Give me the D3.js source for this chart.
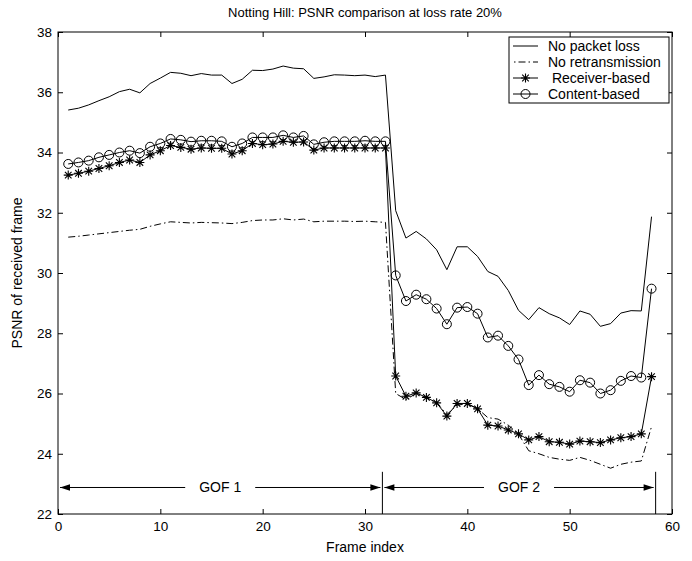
<!DOCTYPE html>
<html>
<head>
<meta charset="utf-8">
<script src="https://cdn.jsdelivr.net/npm/d3@7"></script>
<style>
  html, body { margin: 0; padding: 0; background: #fff; }
  svg { display: block; }
  text { font-family: "Liberation Sans", Arial, sans-serif; fill: #000; }
</style>
</head>
<body>
<svg id="chart" width="692" height="561"></svg>
<script>
const frames = [1,2,3,4,5,6,7,8,9,10,11,12,13,14,15,16,17,18,19,20,21,22,23,24,25,26,27,28,29,30,31,32,
  33,34,35,36,37,38,39,40,41,42,43,44,45,46,47,48,49,50,51,52,53,54,55,56,57,58];

const noLoss = [35.41,35.47,35.58,35.72,35.85,36.02,36.10,35.98,36.29,36.47,36.66,36.63,36.55,36.62,36.57,36.57,
  36.29,36.43,36.73,36.72,36.77,36.87,36.80,36.78,36.46,36.51,36.58,36.57,36.55,36.57,36.52,36.57,
  32.07,31.16,31.38,31.13,30.77,30.11,30.87,30.87,30.55,30.05,29.89,29.42,28.76,28.45,28.85,28.65,
  28.51,28.29,28.74,28.63,28.23,28.32,28.67,28.75,28.74,31.87];

const noRetrans = [31.19,31.22,31.26,31.30,31.34,31.38,31.42,31.45,31.55,31.63,31.70,31.68,31.66,31.68,31.67,31.66,
  31.64,31.68,31.74,31.76,31.76,31.80,31.76,31.79,31.70,31.72,31.72,31.72,31.71,31.72,31.70,31.68,
  26.00,25.80,26.00,25.85,25.70,25.30,25.62,25.65,25.50,25.20,25.15,24.95,24.65,24.10,24.00,23.88,
  23.82,23.78,23.88,23.78,23.65,23.52,23.65,23.72,23.76,24.90];

const receiverBased = [33.25,33.31,33.38,33.47,33.56,33.67,33.75,33.67,33.92,34.06,34.23,34.17,34.11,34.15,34.14,34.14,
  33.95,34.06,34.30,34.26,34.28,34.37,34.34,34.35,34.08,34.15,34.15,34.15,34.15,34.15,34.15,34.15,
  26.58,25.91,26.02,25.87,25.69,25.25,25.67,25.67,25.49,24.95,24.92,24.79,24.66,24.46,24.57,24.40,
  24.38,24.32,24.42,24.40,24.37,24.46,24.53,24.57,24.66,26.56];

const contentBased = [33.62,33.67,33.73,33.84,33.92,34.00,34.06,33.98,34.19,34.30,34.45,34.42,34.36,34.39,34.39,34.37,
  34.19,34.30,34.50,34.50,34.50,34.57,34.50,34.55,34.27,34.34,34.37,34.37,34.37,34.39,34.37,34.37,
  29.92,29.07,29.28,29.13,28.82,28.30,28.85,28.87,28.65,27.86,27.92,27.58,27.13,26.28,26.61,26.31,
  26.22,26.06,26.44,26.36,26.00,26.11,26.42,26.58,26.53,29.48];

const xTicks = [0,10,20,30,40,50,60];
const yTicks = [22,24,26,28,30,32,34,36,38];
const legendLabels = ["No packet loss", "No retransmission", " Receiver-based", "Content-based"];
const gofLabels = ["GOF 1", "GOF 2"];
const gofBounds = [0, 31.7, 58.4];
const gofArrowLevel = 22.88;
const gofLineTop = 23.4;

const svg = d3.select("#chart");
const x = d3.scaleLinear().domain([0, 60]).range([58, 672]);
const y = d3.scaleLinear().domain([22, 38]).range([514, 32]);
const FONT = '"Liberation Sans", Arial, sans-serif';

// Title
svg.append("text").attr("x", 365).attr("y", 17).attr("text-anchor", "middle")
  .style("font-size", "13px").text("Notting Hill: PSNR comparison at loss rate 20%");

// Axes with inward ticks
const fs = "13px";
const gx = svg.append("g").attr("transform", `translate(0,${y(22)})`)
  .call(d3.axisBottom(x).tickValues(xTicks).tickSizeInner(-5).tickSizeOuter(0).tickPadding(7));
const gxt = svg.append("g").attr("transform", `translate(0,${y(38)})`)
  .call(d3.axisTop(x).tickValues(xTicks).tickSizeInner(-5).tickSizeOuter(0).tickFormat(""));
const gy = svg.append("g").attr("transform", `translate(${x(0)},0)`)
  .call(d3.axisLeft(y).tickValues(yTicks).tickSizeInner(-5).tickSizeOuter(0).tickPadding(6));
const gyr = svg.append("g").attr("transform", `translate(${x(60)},0)`)
  .call(d3.axisRight(y).tickValues(yTicks).tickSizeInner(-5).tickSizeOuter(0).tickFormat(""));
[gx, gxt, gy, gyr].forEach(g => {
  g.select(".domain").remove();
  g.selectAll("line").attr("stroke", "#000");
  g.selectAll("text").style("font-size", "13.5px").style("font-family", FONT);
});

// frame
svg.append("rect").attr("x", x(0)).attr("y", y(38)).attr("width", x(60) - x(0)).attr("height", y(22) - y(38))
  .attr("fill", "none").attr("stroke", "#000").attr("stroke-width", 1);

// Axis labels
svg.append("text").attr("x", (x(0) + x(60)) / 2).attr("y", 552).attr("text-anchor", "middle")
  .style("font-size", "14px").text("Frame index");
svg.append("text").attr("transform", `translate(22,${(y(22) + y(38)) / 2}) rotate(-90)`)
  .attr("text-anchor", "middle").style("font-size", "14px").text("PSNR of received frame");

// Series
const line = vals => d3.line().x((d, i) => x(frames[i])).y(d => y(d))(vals);
const plot = svg.append("g");
plot.append("path").attr("d", line(noLoss)).attr("fill", "none").attr("stroke", "#000").attr("stroke-width", 1);
plot.append("path").attr("d", line(noRetrans)).attr("fill", "none").attr("stroke", "#000").attr("stroke-width", 1)
  .attr("stroke-dasharray", "7,3,1.5,3");
plot.append("path").attr("d", line(receiverBased)).attr("fill", "none").attr("stroke", "#000").attr("stroke-width", 1);
plot.append("path").attr("d", line(contentBased)).attr("fill", "none").attr("stroke", "#000").attr("stroke-width", 1);

const starPath = "M-4.5,0H4.5M0,-4.5V4.5M-3.3,-3.3L3.3,3.3M-3.3,3.3L3.3,-3.3";
plot.selectAll(".star").data(receiverBased).enter().append("path")
  .attr("transform", (d, i) => `translate(${x(frames[i])},${y(d)})`)
  .attr("d", starPath).attr("stroke", "#000").attr("stroke-width", 1.1).attr("fill", "none");
plot.selectAll(".circ").data(contentBased).enter().append("circle")
  .attr("cx", (d, i) => x(frames[i])).attr("cy", d => y(d)).attr("r", 4.5)
  .attr("fill", "none").attr("stroke", "#000").attr("stroke-width", 1);

// GOF annotation
const ay = y(gofArrowLevel);
const ann = svg.append("g");
[1, 2].forEach(k => {
  ann.append("line").attr("x1", x(gofBounds[k])).attr("x2", x(gofBounds[k]))
    .attr("y1", y(gofLineTop)).attr("y2", y(22)).attr("stroke", "#000");
});
function arrowHead(px, dir) {
  ann.append("path").attr("d", `M${px},${ay}L${px - dir * 10},${ay - 3.2}L${px - dir * 10},${ay + 3.2}Z`).attr("fill", "#000");
}
for (let k = 0; k < 2; k++) {
  const a = x(gofBounds[k]) + 2, b = x(gofBounds[k + 1]) - 2;
  const mid = (a + b) / 2;
  const t = ann.append("text").attr("x", mid).attr("y", ay + 5).attr("text-anchor", "middle")
    .style("font-size", "14px").text(gofLabels[k]);
  const w = t.node().getComputedTextLength();
  const gap = w / 2 + 14;
  ann.append("line").attr("x1", a).attr("x2", mid - gap).attr("y1", ay).attr("y2", ay).attr("stroke", "#000");
  ann.append("line").attr("x1", mid + gap).attr("x2", b).attr("y1", ay).attr("y2", ay).attr("stroke", "#000");
  arrowHead(a, -1);
  arrowHead(b, 1);
}

// Legend
const lg = svg.append("g");
lg.append("rect").attr("x", 509).attr("y", 37).attr("width", 160).attr("height", 66)
  .attr("fill", "#fff").attr("stroke", "#000");
const rows = [46, 62, 78, 94];
legendLabels.forEach((lab, i) => {
  const ry = rows[i];
  const l = lg.append("line").attr("x1", 513).attr("x2", 538).attr("y1", ry).attr("y2", ry).attr("stroke", "#000");
  if (i === 1) l.attr("stroke-dasharray", "1.5,3,7,3").attr("x1", 514);
  if (i === 2) lg.append("path").attr("transform", `translate(525.5,${ry})`).attr("d", starPath)
    .attr("stroke", "#000").attr("fill", "none").attr("stroke-width", 1.1);
  if (i === 3) lg.append("circle").attr("cx", 525.5).attr("cy", ry).attr("r", 4.5)
    .attr("fill", "none").attr("stroke", "#000");
  lg.append("text").attr("x", 548).attr("y", ry + 5).style("font-size", "14px")
    .attr("xml:space", "preserve").style("white-space", "pre").text(lab);
});
</script>
</body>
</html>
